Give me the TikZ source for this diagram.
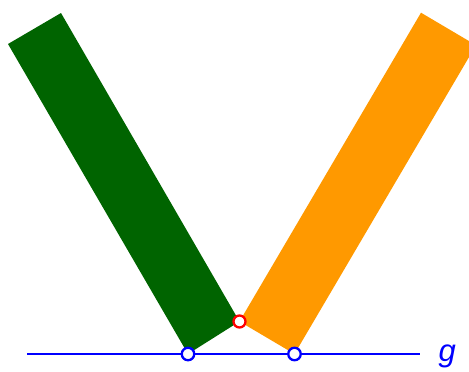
\documentclass[tikz,border=0pt]{standalone}
\usepackage{fontspec}
\setmainfont{Liberation Sans}
\definecolor{ggGreen}{RGB}{0,100,0}
\definecolor{ggOrange}{RGB}{255,153,0}
\begin{document}
\begin{tikzpicture}[x=1pt,y=-1pt,
  ptblue/.style={circle,draw=blue,fill=white,line width=2.3pt,minimum width=11pt,minimum height=12.5pt,inner sep=0pt},
  ptred/.style={circle,draw=red,fill=white,line width=2.3pt,minimum size=12pt,inner sep=0pt},
  gline/.style={draw=blue,line width=2.6pt}]
\useasboundingbox (0,0) rectangle (469,372);
\clip (0,0) rectangle (469,372);
% green strip
\fill[ggGreen] (8,44) -- (61,13) -- (239.5,321.5) -- (188,354) -- cycle;
% orange strip
\fill[ggOrange] (239.5,321.5) -- (294.5,354) -- (476,45.2) -- (421,12.7) -- cycle;
% line g
\coordinate (gL) at (27,354);
\coordinate (gR) at (420,354);
\draw[gline] (gL) -- (gR);
\node[text=blue,font=\fontsize{31}{33}\selectfont\itshape,anchor=base west] (glabel) at (435,361) {g};
% points
\node[ptblue] (A) at (188,354) {};
\node[ptblue] (B) at (294.5,354) {};
\node[ptred] (C) at (239.5,321.5) {};
\end{tikzpicture}
\end{document}
